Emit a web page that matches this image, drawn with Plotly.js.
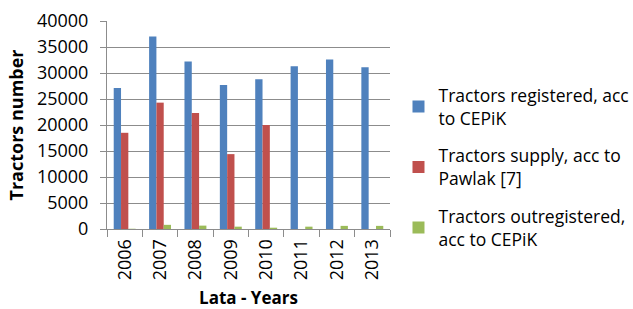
<!DOCTYPE html>
<html><head><meta charset="utf-8">
<script src="https://cdn.plot.ly/plotly-3.0.1.min.js"></script>
<style>body{margin:0;padding:0;background:#fff}#chart{width:633px;height:309px}</style>
</head><body><div id="chart"></div>
<script>
const years = ['2006','2007','2008','2009','2010','2011','2012','2013'];
const registered = [27100, 37000, 32200, 27700, 28800, 31300, 32600, 31100];
const supply = [18500, 24300, 22300, 14400, 20000, null, null, null];
const outregistered = [50, 800, 650, 450, 250, 450, 600, 600];
const seriesNames = ['Tractors registered, acc<br>to CEPiK', 'Tractors supply, acc to<br>Pawlak [7]', 'Tractors outregistered,<br>acc to CEPiK'];
const colors = ['#4F81BD', '#C0504D', '#9BBB59'];
const font = "Open Sans, Liberation Sans, sans-serif";
const data = [registered, supply, outregistered].map((v, i) => ({
  type: 'bar', x: years, y: v, name: seriesNames[i], legendgroup: 'g' + i, marker: {color: colors[i]}
}));
const layout = {
  width: 633, height: 309,
  margin: {l: 107, r: 243, t: 21, b: 80, autoexpand: false},
  paper_bgcolor: '#fff', plot_bgcolor: '#fff',
  barmode: 'group', bargap: 0.38, bargroupgap: 0,
  font: {family: font, size: 17, color: '#000'},
  showlegend: true,
  legend: {x: 1.03, y: 0.73, xanchor: 'left', yanchor: 'top',
    font: {size: 17.5}, tracegroupgap: 12, itemwidth: 30},
  xaxis: {type: 'category', tickangle: -90, ticks: 'outside', tickson: 'boundaries', ticklen: 7, tickcolor: '#8C8C8C',
    showline: true, linecolor: '#8C8C8C', showgrid: false, tickfont: {size: 18}, ticklabelstandoff: 2,
    title: {text: '<b>Lata - Years</b>', font: {size: 17}, standoff: 12}},
  yaxis: {range: [0, 40000], dtick: 5000, tickformat: 'd', ticks: 'outside', ticklen: 6, tickcolor: '#8C8C8C',
    showline: true, linecolor: '#8C8C8C', gridcolor: '#8C8C8C', zeroline: false, tickfont: {size: 18}, ticklabelstandoff: 8,
    title: {text: '<b>Tractors number</b>', font: {size: 18}, standoff: 8}}
};
Plotly.newPlot('chart', data, layout, {staticPlot: true});
</script></body></html>
